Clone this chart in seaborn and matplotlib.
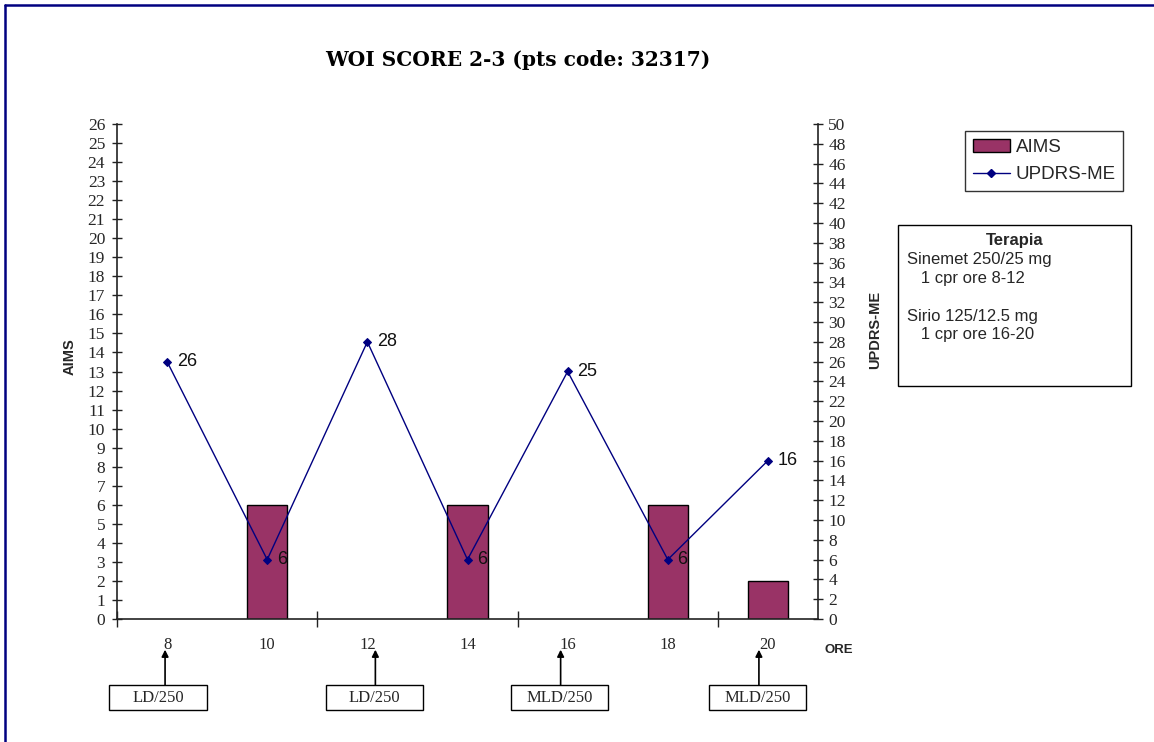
import matplotlib
matplotlib.use("Agg")
import matplotlib.pyplot as plt
from matplotlib.patches import Rectangle, Patch
from matplotlib.lines import Line2D
import numpy as np
import seaborn as sns

# ── data ───────────────────────────────────────────
hours = ["8", "10", "12", "14", "16", "18", "20"]
aims = [np.nan, 6, np.nan, 6, np.nan, 6, 2]
updrs_me = [26, 6, 28, 6, 25, 6, 16]
dose_hours = ["8", "12", "16", "20"]
dose_labels = ["LD/250", "LD/250", "MLD/250", "MLD/250"]
therapy_lines = ["Sinemet 250/25 mg", "   1 cpr ore 8-12", "",
                 "Sirio 125/12.5 mg", "   1 cpr ore 16-20"]

# layout nudges for the dose boxes / arrows (in category units)
box_shift = [-0.09, 0.07, -0.08, -0.10]
arrow_shift = [-0.02, 0.08, -0.07, -0.09]

BAR_COLOR = "#993366"
LINE_COLOR = "#000080"
SERIF = "Liberation Serif"
SANS = "Liberation Sans"

sns.set_theme(style="white")
plt.rcParams["font.family"] = [SANS, "DejaVu Sans"]

W, H = 1154, 742
fig = plt.figure(figsize=(W / 100, H / 100), dpi=100)
ax = fig.add_axes([117 / W, 1 - 619 / H, (818 - 117) / W, (619 - 124) / H])

# bars (left axis)
sns.barplot(x=hours, y=aims, order=hours, color=BAR_COLOR, width=0.4,
            edgecolor="black", linewidth=1, saturation=1, ax=ax)
ax.set_ylim(0, 26)
ax.set_yticks(range(0, 27))
ax.set_xlim(-0.5, len(hours) - 0.5)
ax.set_xlabel(""); ax.set_ylabel("")

# line (right axis)
ax2 = ax.twinx()
sns.pointplot(x=hours, y=updrs_me, order=hours, color=LINE_COLOR,
              markers="D", markersize=4, linewidth=1, errorbar=None, ax=ax2)
ax2.set_ylim(0, 50)
ax2.set_yticks(range(0, 51, 2))
ax2.set_xlim(-0.5, len(hours) - 0.5)
ax2.set_xlabel(""); ax2.set_ylabel("")

for i, v in enumerate(updrs_me):
    ax2.annotate(str(v), (i, v), xytext=(7, 0), textcoords="offset points",
                 va="center", ha="left", fontsize=13, color="#111111")

# spines & ticks
for a in (ax, ax2):
    for s in a.spines.values():
        s.set_visible(False)
ax.spines["left"].set_visible(True)
ax.spines["bottom"].set_visible(True)
ax2.spines["right"].set_visible(True)
for s in (ax.spines["left"], ax.spines["bottom"], ax2.spines["right"]):
    s.set_color("#222222"); s.set_linewidth(1.2)

ax.tick_params(axis="y", direction="inout", length=7, width=1, color="#222222",
               labelsize=12.5, pad=5, left=True)
ax2.tick_params(axis="y", direction="inout", length=7, width=1, color="#222222",
                labelsize=12.5, pad=4, right=True)
for lab in ax.get_yticklabels() + ax2.get_yticklabels():
    lab.set_fontfamily(SERIF)

ax.set_xticks(range(len(hours)))
ax.set_xticklabels(hours)
ax.set_xticks([-0.5, 1.5, 3.5, 5.5], minor=True)
ax.tick_params(axis="x", which="major", length=0, pad=13, labelsize=12)
ax.tick_params(axis="x", which="minor", direction="inout", length=12, width=1,
               color="#222222", bottom=True)
for lab in ax.get_xticklabels():
    lab.set_fontfamily(SERIF)
ax.grid(False); ax2.grid(False)

# axis titles
fig.text(70 / W, 1 - 357 / H, "AIMS", rotation=90, ha="center", va="center",
         fontsize=10.5, fontweight="bold")
fig.text(875 / W, 1 - 330 / H, "UPDRS-ME", rotation=90, ha="center",
         va="center", fontsize=10.5, fontweight="bold")
fig.text(839 / W, 1 - 650 / H, "ORE", ha="center", va="center",
         fontsize=9.5, fontweight="bold")

# title
fig.text(518 / W, 1 - 60 / H, "WOI SCORE 2-3 (pts code: 32317)", ha="center",
         va="center", fontsize=14.5, fontweight="bold", family="DejaVu Serif",
         color="black")

# legend
handles = [Patch(facecolor=BAR_COLOR, edgecolor="black", linewidth=1),
           Line2D([0], [0], color=LINE_COLOR, lw=1, marker="D", markersize=4)]
leg = fig.legend(handles, ["AIMS", "UPDRS-ME"], loc="upper left",
                 bbox_to_anchor=(965 / W, 1 - 131 / H), fontsize=13.5,
                 frameon=True, fancybox=False, borderpad=0.4,
                 handlelength=2.0, handletextpad=0.3, labelspacing=0.55,
                 borderaxespad=0)
leg.get_frame().set_edgecolor("black")
leg.get_frame().set_linewidth(1)

# therapy box
fig.add_artist(Rectangle((898 / W, 1 - 386 / H), (1131 - 898) / W,
                         (386 - 225) / H, transform=fig.transFigure,
                         fill=False, edgecolor="black", linewidth=1))
fig.text(1015 / W, 1 - 241 / H, "Terapia", ha="center", va="center",
         fontsize=12, fontweight="bold")
fig.text(907 / W, 1 - 252 / H, "\n".join(therapy_lines), ha="left", va="top",
         fontsize=12, linespacing=1.32)

# dose annotations under the x axis
trans = ax.get_xaxis_transform()
for h, lab, bs, ash in zip(dose_hours, dose_labels, box_shift, arrow_shift):
    xi = hours.index(h)
    xb = xi + bs
    ax.add_patch(Rectangle((xb - 0.485, -0.1838), 0.97, 0.0505,
                           transform=trans, fill=False, edgecolor="black",
                           linewidth=1, clip_on=False))
    ax.text(xb, -0.1586, lab, transform=trans, ha="center", va="center",
            fontsize=12, family=SERIF)
    ax.annotate("", xy=(xi + ash, -0.062), xycoords=trans,
                xytext=(xi + ash, -0.1333), textcoords=trans,
                arrowprops=dict(arrowstyle="-|>", color="black", lw=1.2,
                                mutation_scale=10, shrinkA=0, shrinkB=0),
                annotation_clip=False)

# outer frame (top and left edges visible)
fig.add_artist(Line2D([5 / W, 5 / W], [0, 1 - 5 / H], transform=fig.transFigure,
                      color="#000080", lw=1.8))
fig.add_artist(Line2D([5 / W, 1], [1 - 5 / H, 1 - 5 / H],
                      transform=fig.transFigure, color="#000080", lw=1.8))

fig.savefig("out.png", dpi=100)
plt.close(fig)
